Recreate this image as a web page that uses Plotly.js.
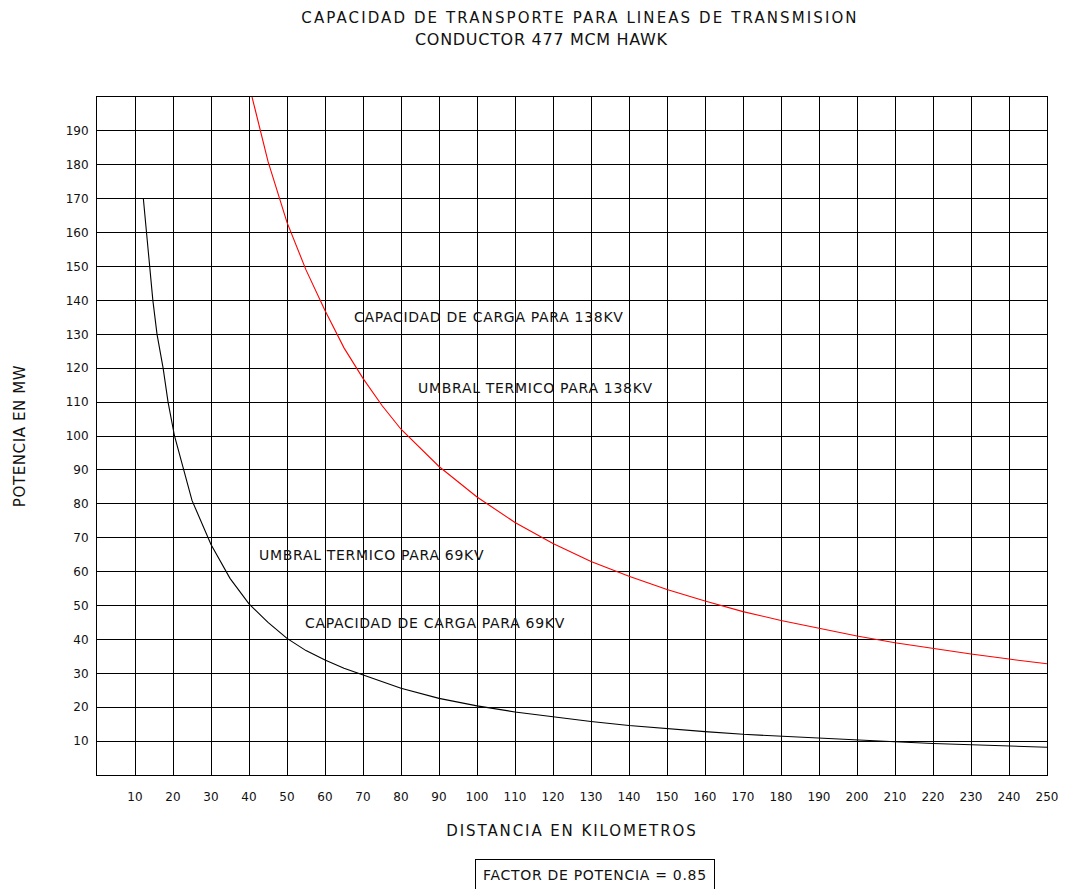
<!DOCTYPE html>
<html>
<head>
<meta charset="utf-8">
<script src="https://cdn.plot.ly/plotly-3.0.1.min.js"></script>
<style>
  html, body { margin: 0; padding: 0; background: #fff; }
  #chart { width: 1072px; height: 889px; }
  .gtitle { letter-spacing: 2.1px; }
  .annotation-text { letter-spacing: 0.7px; }
  .xtitle { letter-spacing: 1.9px; }
  .ytitle { letter-spacing: 0.6px; }
</style>
</head>
<body>
<div id="chart"></div>
<script>
// 69 kV curve (distance km, MW)
const dist69 = [12.2, 13.0, 13.9, 14.7, 15.8, 17.4, 18.7, 20.4, 25, 30, 35, 40, 45, 50, 55, 60, 65, 70, 80, 90, 100, 110, 120, 130, 140, 150, 160, 170, 180, 190, 200, 210, 220, 230, 240, 250];
const mw69   = [170, 160, 150, 140, 130, 120, 110, 100, 81, 68, 58, 50.5, 45, 40.3, 36.7, 33.9, 31.5, 29.5, 25.6, 22.6, 20.4, 18.6, 17.1, 15.8, 14.6, 13.6, 12.8, 12.0, 11.4, 10.8, 10.2, 9.8, 9.3, 8.9, 8.5, 8.2];
// 138 kV curve
const dist138 = [40.8, 45, 50, 55, 60, 65, 70, 75, 80, 90, 100, 110, 120, 130, 140, 150, 160, 170, 180, 190, 200, 210, 220, 230, 240, 250];
const mw138   = [200, 181, 163, 149, 137, 126, 117, 109, 102, 91, 82, 74.5, 68.3, 63, 58.6, 54.7, 51.3, 48.2, 45.6, 43.2, 41, 39, 37.3, 35.7, 34.2, 32.8];

const xTicks = [10,20,30,40,50,60,70,80,90,100,110,120,130,140,150,160,170,180,190,200,210,220,230,240,250];
const yTicks = [10,20,30,40,50,60,70,80,90,100,110,120,130,140,150,160,170,180,190];

const titleLine1 = "CAPACIDAD DE TRANSPORTE PARA LINEAS DE TRANSMISION";
const titleLine2 = "CONDUCTOR 477 MCM HAWK";
const xTitle = "DISTANCIA EN KILOMETROS";
const yTitle = "POTENCIA EN MW";
const noteText = "FACTOR DE POTENCIA = 0.85";

const labelTexts = ["CAPACIDAD DE CARGA PARA 138KV", "UMBRAL TERMICO PARA 138KV", "UMBRAL TERMICO PARA 69KV", "CAPACIDAD DE CARGA PARA 69KV"];
const labelX = [103.2, 115.3, 72.3, 88.9];
const labelY = [135.2, 114.1, 64.9, 44.9];

const FONT = "DejaVu Sans, sans-serif";
const INK = "#111111";

const traces = [
  { x: dist69, y: mw69, type: "scatter", mode: "lines", name: "69KV",
    line: { color: "#000000", width: 1.1 }, hoverinfo: "x+y" },
  { x: dist138, y: mw138, type: "scatter", mode: "lines", name: "138KV",
    line: { color: "#ff0000", width: 1.1 }, hoverinfo: "x+y" }
];

const annotations = labelTexts.map((t, i) => ({
  text: t, x: labelX[i], y: labelY[i], xref: "x", yref: "y",
  showarrow: false, xanchor: "center", yanchor: "middle",
  font: { family: FONT, size: 14, color: INK }
}));
annotations.push({
  text: titleLine2, xref: "paper", yref: "paper",
  x: (541 - 97) / 950, y: (775 - 39) / 678, xanchor: "center", yanchor: "middle",
  showarrow: false, font: { family: FONT, size: 16, color: INK }
});
annotations.push({
  text: noteText, xref: "paper", yref: "paper",
  x: (595 - 97) / 950, y: (775 - 875) / 678, xanchor: "center", yanchor: "middle",
  showarrow: false, bordercolor: "#000", borderwidth: 1, borderpad: 7,
  font: { family: FONT, size: 14, color: INK }
});

const layout = {
  width: 1072, height: 889,
  paper_bgcolor: "#ffffff", plot_bgcolor: "#ffffff",
  margin: { l: 97, r: 25, t: 97, b: 114, pad: 0 },
  showlegend: false,
  font: { family: FONT, color: INK },
  title: {
    text: titleLine1, xref: "container", x: 580 / 1072, xanchor: "center",
    yref: "container", y: 1 - 18 / 889, yanchor: "middle",
    font: { family: FONT, size: 15, color: INK }
  },
  xaxis: {
    range: [0, 250], tickvals: xTicks, ticktext: xTicks.map(String),
    showgrid: true, gridcolor: "#000", gridwidth: 1,
    showline: true, linecolor: "#000", linewidth: 1, mirror: true,
    zeroline: false, ticks: "", ticklabelstandoff: 11,
    tickfont: { family: FONT, size: 12, color: INK },
    title: { text: xTitle, standoff: 22, font: { family: FONT, size: 15, color: INK } },
    fixedrange: true
  },
  yaxis: {
    range: [0, 200], tickvals: yTicks, ticktext: yTicks.map(String),
    showgrid: true, gridcolor: "#000", gridwidth: 1,
    showline: true, linecolor: "#000", linewidth: 1, mirror: true,
    zeroline: false, ticks: "", ticklabelstandoff: 5,
    tickfont: { family: FONT, size: 12, color: INK },
    title: { text: yTitle, standoff: 36, font: { family: FONT, size: 15, color: INK } },
    fixedrange: true
  },
  annotations: annotations
};

Plotly.newPlot("chart", traces, layout, { displayModeBar: false, staticPlot: true });
</script>
</body>
</html>
